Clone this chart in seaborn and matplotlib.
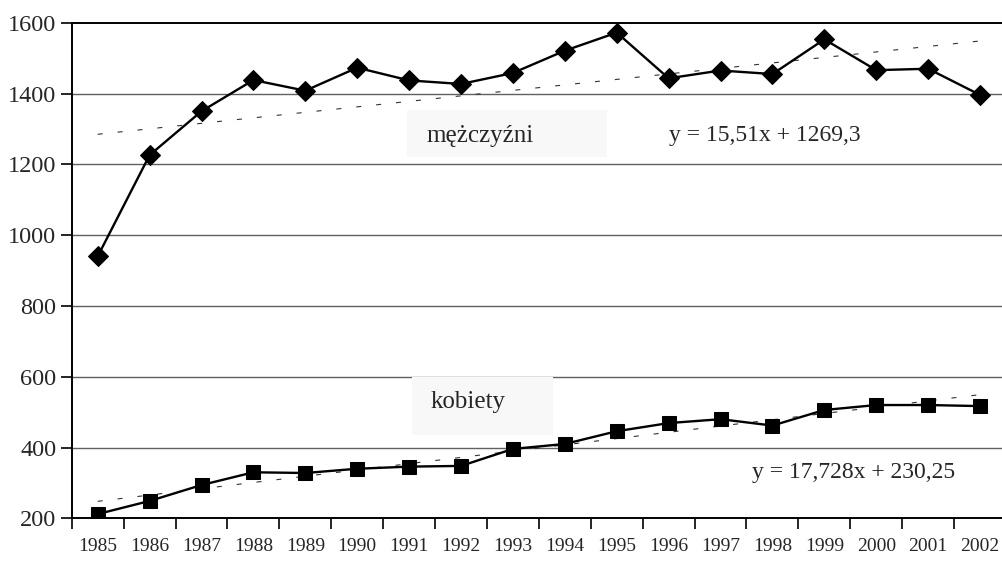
import numpy as np
import pandas as pd
import matplotlib
matplotlib.use("Agg")
import matplotlib.pyplot as plt
from matplotlib.patches import Rectangle
import seaborn as sns

sns.set_style("white")
plt.rcParams["font.family"] = ["Liberation Serif", "DejaVu Serif"]

years = [str(y) for y in range(1985, 2003)]
men = [940, 1226, 1350, 1438, 1408, 1473, 1437, 1427, 1458, 1521,
       1572, 1443, 1465, 1455, 1553, 1466, 1470, 1396]
women = [212, 249, 294, 330, 328, 340, 346, 348, 396, 410,
         446, 469, 480, 462, 506, 520, 520, 517]

men_slope, men_icpt = 15.51, 1269.3
women_slope, women_icpt = 17.728, 230.25
men_eq = "y = 15,51x + 1269,3"
women_eq = "y = 17,728x + 230,25"

df = pd.DataFrame({"pos": np.arange(len(years)), "year": years,
                   "men": men, "women": women})
xt = np.arange(1, len(years) + 1)

fig = plt.figure(figsize=(10.02, 5.61), dpi=100)
ax = fig.add_axes([0.0716, 0.0761, 0.9324, 0.8834])

# gridlines
for v in range(400, 1600, 200):
    ax.axhline(v, color="#606060", lw=1.0, zorder=1)

# label boxes
ax.add_patch(Rectangle((5.96, 1220), 3.85, 133, facecolor="#f8f8f8",
                       edgecolor="none", zorder=2))
ax.add_patch(Rectangle((6.06, 435), 2.71, 164, facecolor="#f8f8f8",
                       edgecolor="none", zorder=2))

# trend lines
ax.plot(df["pos"], men_slope * xt + men_icpt, color="#333333", lw=0.8,
        linestyle=(0, (4.5, 13.5)), zorder=3)
ax.plot(df["pos"], women_slope * xt + women_icpt, color="#333333", lw=0.8,
        linestyle=(0, (4.5, 13.5)), zorder=3)

sns.lineplot(data=df, x="pos", y="men", ax=ax, color="black", lw=1.7,
             marker="D", markersize=10, markeredgecolor="black", zorder=4)
sns.lineplot(data=df, x="pos", y="women", ax=ax, color="black", lw=1.7,
             marker="s", markersize=9.5, markeredgecolor="black", zorder=4)

ax.text(6.33, 1280, "mężczyźni", fontsize=18, va="center", ha="left", zorder=5)
ax.text(6.42, 528, "kobiety", fontsize=18, va="center", ha="left", zorder=5)
ax.text(11.0, 1280, men_eq, fontsize=17, va="center", ha="left", zorder=5)
ax.text(12.6, 328, women_eq, fontsize=17, va="center", ha="left", zorder=5)

ax.set_xlim(-0.5, len(years) - 0.5)
ax.set_ylim(200, 1600)
ax.set_yticks(range(200, 1601, 200))
ax.tick_params(axis="y", labelsize=17.5, length=8, width=1.2, direction="out",
               left=True, color="black", pad=3)
ax.set_xticks(df["pos"])
ax.set_xticklabels(years)
ax.set_xticks(np.arange(-0.5, len(years) - 0.5, 1), minor=True)
ax.tick_params(axis="x", which="major", labelsize=14, length=0, pad=14)
ax.tick_params(axis="x", which="minor", length=8, width=1.2,
               direction="out", bottom=True, color="black")
ax.set_xlabel("")
ax.set_ylabel("")

for s in ["left", "bottom", "top"]:
    ax.spines[s].set_color("black")
    ax.spines[s].set_linewidth(1.4)
ax.spines["right"].set_visible(False)

fig.savefig("out.png", dpi=100)
